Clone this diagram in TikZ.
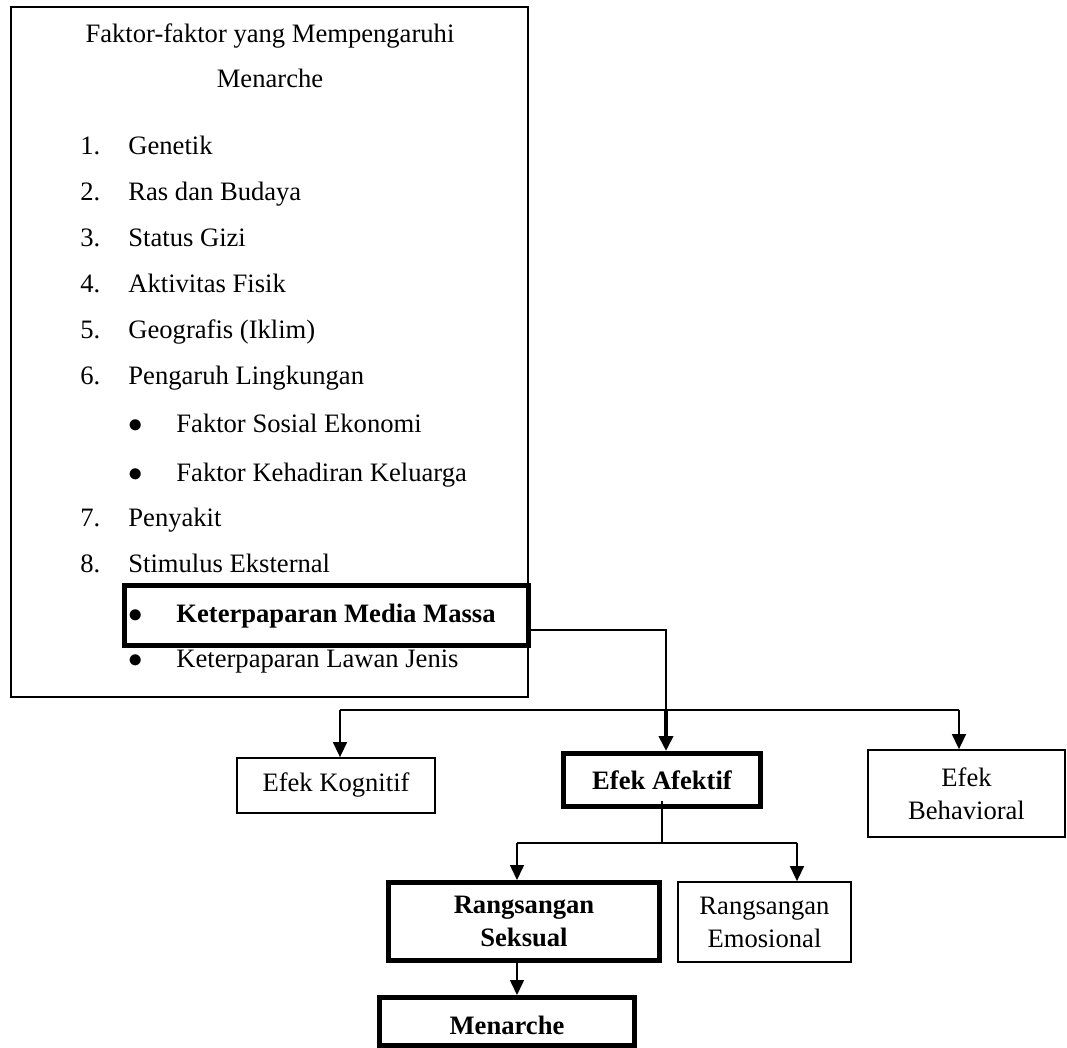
\documentclass[tikz,border=0pt]{standalone}
\usepackage{fontspec}
\setmainfont{Liberation Serif}
\usetikzlibrary{arrows.meta}
\tikzset{
  % Boxes are sized in points, positions are given in scan pixels
  box/.style={rectangle, draw=black, line width=0.9pt, inner sep=0pt,
    align=center, font=\fontsize{13.3}{16.5}\selectfont},
  heavy/.style={box, line width=2.5pt,
    font=\fontsize{13.3}{16.5}\selectfont\bfseries},
  txt/.style={inner sep=0pt, anchor=base west,
    font=\fontsize{13.3}{16}\selectfont},
  txtb/.style={txt, font=\fontsize{13.3}{16}\selectfont\bfseries},
  wire/.style={line width=0.8pt, black},
  arrow/.style={wire, -{Triangle[length=7.5pt,width=7pt]}},
  heavyarrow/.style={arrow, line width=2pt}
}

\begin{document}
\begin{tikzpicture}[x=0.5pt, y=-0.5pt]
\useasboundingbox (0,0) rectangle (1067,1048);

% Factor list (outer box first)
\node[box, minimum width=258.5pt, minimum height=345pt] (factors) at (269.5,352) {};
\node[txt, anchor=base] (title1) at (270,43) {Faktor-faktor yang Mempengaruhi};
\node[txt, anchor=base] (title2) at (270,88) {Menarche};

\foreach \n/\name/\yy in {1/Genetik/155, 2/Ras dan Budaya/201, 3/Status Gizi/247,
    4/Aktivitas Fisik/293, 5/Geografis (Iklim)/339, 6/Pengaruh Lingkungan/385,
    7/Penyakit/527, 8/Stimulus Eksternal/573} {
  \node[txt] (num\n) at (80,\yy) {\n.};
  \node[txt] (item\n) at (128,\yy) {\name};
}

\foreach \k/\name/\yy in {a/Faktor Sosial Ekonomi/433,
    b/Faktor Kehadiran Keluarga/481, d/Keterpaparan Lawan Jenis/668} {
  \node[txt] (dot\k) at (128,\yy) {$\bullet$};
  \node[txt] (sub\k) at (176,\yy) {\name};
}

% Highlighted sub item
\node[heavy, minimum width=202pt, minimum height=30pt] (media) at (326.5,615.5) {};
\node[txt] (dotc) at (128,622) {$\bullet$};
\node[txtb] (subc) at (176,622) {Keterpaparan Media Massa};

% Media effects
\node[box, minimum width=99pt, minimum height=27.5pt] (kognitif) at (336,785.5) {Efek Kognitif};
\node[heavy, minimum width=98.5pt, minimum height=26.5pt] (afektif) at (662,780) {Efek Afektif};
\node[box, minimum width=98.5pt, minimum height=43.5pt] (behavioral) at (966.5,793.5) {Efek\\Behavioral};

% Stimulation and outcome
\node[heavy, minimum width=135.5pt, minimum height=39pt] (seksual) at (524,921.5) {Rangsangan\\Seksual};
\node[box, minimum width=86.5pt, minimum height=40pt] (emosi) at (764.5,922) {Rangsangan\\Emosional};
\node[heavy, minimum width=127.5pt, minimum height=24pt, text height=13pt] (menarche) at (507,1021.5) {Menarche};

% Connectors
\coordinate (split1) at (666,710);
\coordinate (bar1l) at (340,710);
\coordinate (bar1r) at (959,710);
\draw[wire] ([yshift=-7.25pt]media.east) -| (split1);
\draw[wire] (bar1l) -- (bar1r);
\draw[arrow] (bar1l) -- (bar1l |- kognitif.north);
\draw[heavyarrow] (split1) -- (split1 |- afektif.north);
\draw[arrow] (bar1r) -- (bar1r |- behavioral.north);

\coordinate (bar2l) at (517,843);
\coordinate (bar2r) at (797,843);
\draw[wire] ([yshift=4.25pt]afektif.south) -- (afektif.south |- bar2l);
\draw[wire] (bar2l) -- (bar2r);
\draw[arrow] (bar2l) -- (bar2l |- seksual.north);
\draw[arrow] (bar2r) -- (bar2r |- emosi.north);
\draw[arrow] (seksual.south -| bar2l) -- (menarche.north -| bar2l);

\end{tikzpicture}
\end{document}
